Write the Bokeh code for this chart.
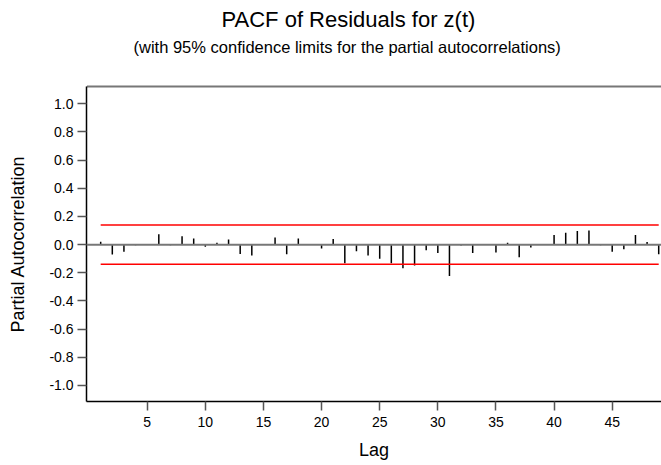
from bokeh.plotting import figure
from bokeh.models import (Title, Span, FixedTicker, PrintfTickFormatter, Range1d, LinearAxis,
                          CustomJSTickFormatter)
from bokeh.embed import file_html
from bokeh.resources import INLINE

# ---- data ----
lags = list(range(1, 50))
pacf = [0.02, -0.07, -0.05, -0.005, 0.003, 0.073, -0.005, 0.06, 0.043, -0.015,
        0.014, 0.036, -0.066, -0.078, 0.003, 0.05, -0.069, 0.043, 0.005, -0.028,
        0.04, -0.133, -0.047, -0.078, -0.10, -0.133, -0.168, -0.149, -0.04, -0.059,
        -0.223, -0.007, -0.059, 0.003, -0.055, 0.014, -0.09, -0.02, -0.003, 0.069,
        0.085, 0.097, 0.10, -0.004, -0.05, -0.033, 0.069, 0.019, -0.069]
conf_limit = 0.1386
x_ticks = [5, 10, 15, 20, 25, 30, 35, 40, 45]
y_ticks = [-1.0, -0.8, -0.6, -0.4, -0.2, 0.0, 0.2, 0.4, 0.6, 0.8, 1.0]

title_text = "PACF of Residuals for z(t)"
subtitle_text = "(with 95% confidence limits for the partial autocorrelations)"

FONT = "Liberation Sans"
X_START, X_END = -0.22, 49.24

p = figure(width=661, height=465, output_backend="svg", toolbar_location=None,
           x_range=Range1d(X_START, X_END), y_range=Range1d(-1.114, 1.123),
           min_border_left=86, min_border_right=0, min_border_top=86, min_border_bottom=64)

p.grid.visible = False
p.outline_line_color = None
p.background_fill_color = "white"
p.border_fill_color = "white"

bottom_axis = p.below[0]
left_axis = p.left[0]

# top border: an unlabeled axis above the frame; its (white) tick gives the gap below the subtitle
top_axis = LinearAxis(ticker=FixedTicker(ticks=[X_START]), axis_line_color="#777777", axis_line_width=2,
                      major_tick_line_color="white", minor_tick_line_color=None,
                      major_tick_in=0, major_tick_out=29, major_label_standoff=0,
                      formatter=CustomJSTickFormatter(code="return ''"))
p.add_layout(top_axis, "above")

# subtitle (nearest the frame) and main title (outermost)
p.add_layout(Title(text=subtitle_text, align="left", offset=47, text_font=FONT,
                   text_font_size="16.5px", text_font_style="normal", text_color="black",
                   standoff=4), "above")
p.title.text = title_text
p.title.align = "left"
p.title.offset = 135
p.title.text_font = FONT
p.title.text_font_size = "22px"
p.title.text_font_style = "normal"
p.title.text_color = "black"
p.title.standoff = 4

# zero line
p.add_layout(Span(location=0, dimension="width", line_color="#777777", line_width=2))

# bars
p.segment(x0=lags, y0=[0] * len(lags), x1=lags, y1=pacf, line_color="black", line_width=1.5)

# confidence limits
p.line(x=[lags[0], lags[-1]], y=[conf_limit, conf_limit], line_color="red", line_width=1.5)
p.line(x=[lags[0], lags[-1]], y=[-conf_limit, -conf_limit], line_color="red", line_width=1.5)

for ax in (bottom_axis, left_axis):
    ax.axis_line_color = "black"
    ax.axis_line_width = 1.5
    ax.major_tick_line_color = "#555555"
    ax.major_tick_line_width = 1.5
    ax.major_tick_in = 0
    ax.major_tick_out = 9
    ax.minor_tick_line_color = None
    ax.major_label_text_font = FONT
    ax.major_label_text_font_size = "14px"
    ax.major_label_text_color = "black"
    ax.axis_label_text_font = FONT
    ax.axis_label_text_font_size = "18px"
    ax.axis_label_text_font_style = "normal"
    ax.axis_label_text_color = "black"

bottom_axis.ticker = FixedTicker(ticks=x_ticks)
left_axis.ticker = FixedTicker(ticks=y_ticks)
left_axis.formatter = PrintfTickFormatter(format="%.1f")
bottom_axis.axis_label = "Lag"
left_axis.axis_label = "Partial Autocorrelation"
bottom_axis.major_label_standoff = 6
bottom_axis.axis_label_standoff = 10
left_axis.major_label_standoff = 4
left_axis.axis_label_standoff = 18

open("out.html", "w").write(file_html(p, INLINE))
